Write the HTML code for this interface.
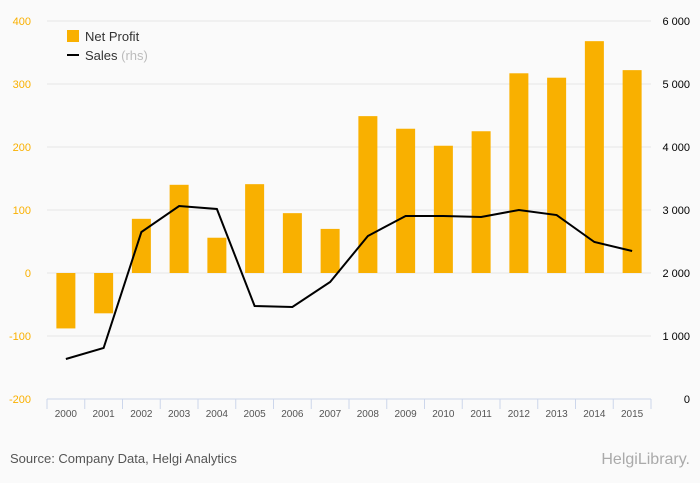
<!DOCTYPE html>
<html><head><meta charset="utf-8"><style>
body{margin:0;background:#fafafa;font-family:"Liberation Sans",sans-serif}
svg{display:block}
</style></head><body>
<svg width="700" height="483" xmlns="http://www.w3.org/2000/svg">
<rect width="700" height="483" fill="#fafafa"/>
<g id="grid"></g><g id="bars"></g><g id="axes"></g>
<g>
<rect x="67" y="30" width="12" height="12" fill="#f9b000"/>
<text x="85" y="41" font-size="13" fill="#333">Net Profit</text>
<line x1="67" y1="55" x2="79" y2="55" stroke="#000" stroke-width="2"/>
<text x="85" y="60" font-size="13" fill="#333">Sales <tspan fill="#bbb">(rhs)</tspan></text>
</g>
<text x="10" y="463" font-size="13" fill="#555">Source: Company Data, Helgi Analytics</text>
<text x="690" y="464" font-size="16" fill="#aaa" text-anchor="end">HelgiLibrary.</text>
</svg>
<script>
const years=["2000","2001","2002","2003","2004","2005","2006","2007","2008","2009","2010","2011","2012","2013","2014","2015"];
const netProfit=[-88,-64,86,140,56,141,95,70,249,229,202,225,317,310,368,322];
const sales=[635,810,2650,3063,3016,1476,1460,1857,2587,2905,2905,2889,3000,2920,2492,2349];
const leftTicks=[-200,-100,0,100,200,300,400];
const rightTicks=[0,1000,2000,3000,4000,5000,6000];
const rightLabels=["0","1 000","2 000","3 000","4 000","5 000","6 000"];
const NS="http://www.w3.org/2000/svg";
const x0=47,x1=651,yT=21,yB=399;
const step=(x1-x0)/years.length;
const yL=v=>yB-(v+200)/600*(yB-yT);
const yR=v=>yB-v/6000*(yB-yT);
const xc=i=>x0+step*(i+0.5);
function mk(t,a,p){const e=document.createElementNS(NS,t);for(const k in a)e.setAttribute(k,a[k]);p.appendChild(e);return e;}
const grid=document.getElementById('grid'),bars=document.getElementById('bars'),axes=document.getElementById('axes');
leftTicks.forEach((v,i)=>{
 if(v!==-200){const l=mk('line',{x1:x0,x2:x1,y1:yL(v),y2:yL(v),stroke:'#e6e6e6'},grid);
 
 }
 const t=mk('text',{x:31,y:yL(v)+4,'font-size':11,fill:'#f9b000','text-anchor':'end'},axes);t.textContent=v;
 
 
});
rightTicks.forEach((v,i)=>{
 const t=mk('text',{x:690,y:yR(v)+4,'font-size':11,fill:'#000','text-anchor':'end'},axes);t.textContent=rightLabels[i];
 
 
});
netProfit.forEach((v,i)=>{
 const y=Math.min(yL(v),yL(0)),h=Math.abs(yL(v)-yL(0));
 const r=mk('rect',{x:xc(i)-9.5,y:y,width:19,height:h,fill:'#f9b000'},bars);
 
 
});
const ax=mk('line',{x1:x0,x2:x1,y1:yB,y2:yB,stroke:'#ccd6eb'},axes);


for(let i=0;i<=years.length;i++){const tk=mk('line',{x1:x0+step*i,x2:x0+step*i,y1:yB,y2:yB+10,stroke:'#ccd6eb'},axes);
 
 }
years.forEach((y,i)=>{const t=mk('text',{x:xc(i),y:yB+18,'font-size':10,fill:'#555','text-anchor':'middle'},axes);t.textContent=y;
 
 });
const pl=mk('polyline',{points:sales.map((v,i)=>xc(i)+','+yR(v)).join(' '),fill:'none',stroke:'#000','stroke-width':2},bars);


</script>
</body></html>
